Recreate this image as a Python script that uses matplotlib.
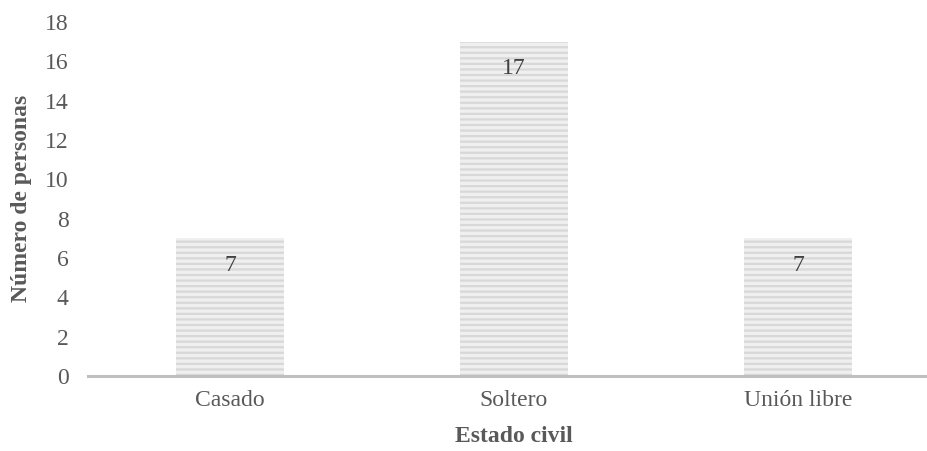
import matplotlib
matplotlib.use("Agg")
import matplotlib.pyplot as plt

categorias = ["Casado", "Soltero", "Unión libre"]
personas = [7, 17, 7]
ticks_y = [0, 2, 4, 6, 8, 10, 12, 14, 16, 18]

plt.rcParams['font.family'] = ['Liberation Serif', 'DejaVu Serif']
plt.rcParams['hatch.linewidth'] = 1.6

gris = '#595959'

fig = plt.figure(figsize=(9.28, 4.51), dpi=100)
ax = fig.add_axes([88/928, 1-376/451, 1-88/928, (376-22)/451])

x = range(len(categorias))
barras = ax.bar(x, personas, width=0.38, color='#efefef', edgecolor='#d8d8d8',
                linewidth=0, hatch='---', zorder=2)

# etiquetas dentro de las barras
for xi, v in zip(x, personas):
    ax.annotate(str(v), (xi, v), xytext=(0, -27), textcoords='offset pixels',
                ha='center', va='center', fontsize=17, color='#404040')

ax.set_xlim(-0.5, 2.458)
ax.set_ylim(0, 18)
ax.set_yticks(ticks_y)
ax.set_xticks(list(x))
ax.set_xticklabels(categorias)

for s in ['top', 'right', 'left']:
    ax.spines[s].set_visible(False)
ax.spines['bottom'].set_color('#bfbfbf')
ax.spines['bottom'].set_linewidth(2.2)
ax.spines['bottom'].set_zorder(3)

ax.tick_params(axis='y', length=0, pad=14, labelsize=17, labelcolor=gris)
ax.tick_params(axis='x', length=0, pad=10, labelsize=17, labelcolor=gris)

fig.text(22/928, 1-198/451, "Número de personas", rotation=90, ha='center',
         va='center', fontsize=17, fontweight='bold', color=gris)
fig.text(514/928, 1-437/451, "Estado civil", ha='center', va='center',
         fontsize=17, fontweight='bold', color=gris)

plt.savefig("out.png", dpi=100)
